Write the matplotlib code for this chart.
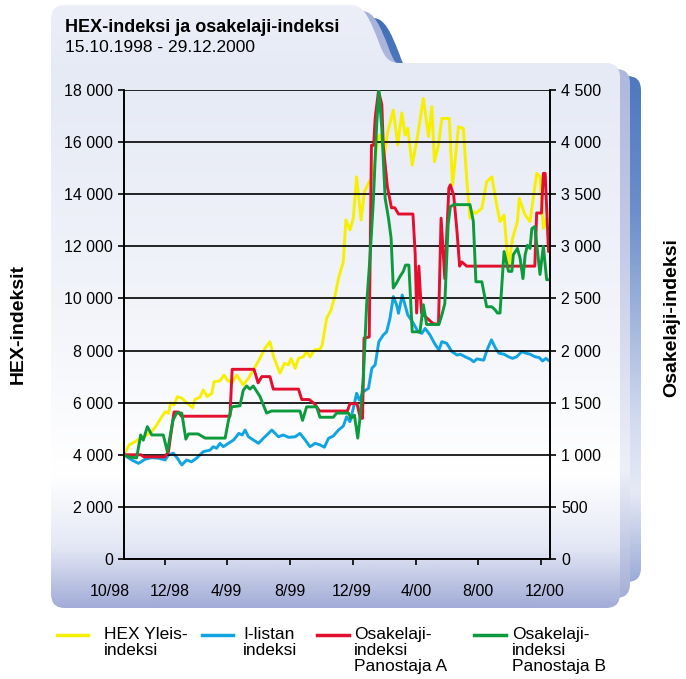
import matplotlib
matplotlib.use("Agg")
import matplotlib.pyplot as plt
import numpy as np
from matplotlib.path import Path
from matplotlib.patches import PathPatch
from matplotlib.colors import LinearSegmentedColormap
from matplotlib.lines import Line2D

plt.rcParams['font.family'] = ['Liberation Sans', 'DejaVu Sans']

# ---------------- data (x = weeks since 15.10.1998) ----------------
weeks_hex = [0, 1.4, 2.5, 3.9, 5.7, 7.5, 8.8, 10.2, 11.1, 12.0, 12.6, 13.5, 14.4, 15.6, 16.9,
             18.5, 19.2, 20.5, 21.4, 22.5, 23.7, 24.3, 25.9, 27.0, 27.9, 29.1, 30.4, 32.2, 33.6,
             34.9, 36.3, 38.1, 39.4, 40.3, 42.1, 43.3, 44.4, 45.1, 46.2, 47.1, 48.4, 49.3, 50.2,
             51.4, 52.9, 53.5, 54.7, 55.9, 57.0, 57.9, 59.2, 59.9, 61.0, 61.9, 62.8, 64.0, 64.9,
             66.0, 67.0, 67.8, 68.5, 69.1, 70.3, 71.2, 72.7, 73.9, 75.0, 75.9, 76.6, 77.8, 79.3,
             80.8, 82.2, 83.1, 83.8, 84.9, 85.8, 87.8, 88.7, 90.3, 91.6, 92.5, 93.4, 94.3, 95.0,
             96.6, 97.9, 99.3, 100.6, 101.5, 102.6, 103.8, 104.9, 106.2, 106.7, 108.3, 109.6,
             111.4, 112.3, 113.2, 114.1, 115]
hex_vals = [4000, 4380, 4460, 4590, 4720, 4890, 5140, 5460, 5650, 5590, 6000, 5910, 6230, 6170, 6000,
            5810, 6130, 6210, 6490, 6230, 6360, 6800, 6840, 7060, 6870, 6750, 7060, 6680, 6940,
            7250, 7600, 8100, 8340, 7800, 7130, 7510, 7450, 7700, 7320, 7700, 7760, 7960, 7760,
            8020, 8050, 8210, 9240, 9560, 10130, 10770, 11410, 13010, 12630, 13080, 14670, 13010, 14100,
            14420, 14670, 15310, 16150, 16270, 15510, 16400, 17230, 15890, 17120, 16270, 16530, 15120, 16270,
            17680, 16210, 17360, 15250, 15890, 16910, 16910, 14350, 16590, 16530, 14610, 13080, 13330, 13270,
            13460, 14480, 14670, 13590, 12950, 13200, 11160, 12310, 12950, 13840, 13200, 12950,
            14800, 14670, 12690, 13080, 13010]

weeks_ilist = [0, 2.1, 3.9, 5.7, 7.5, 9.3, 11.1, 12.0, 13.3, 14.4, 15.6, 16.9, 18.2, 19.6, 21.4,
               23.2, 24.1, 25.0, 25.9, 26.8, 28.2, 29.6, 31.0, 31.9, 32.7, 33.6, 34.9, 36.3, 37.6,
               39.0, 39.9, 41.7, 43.0, 44.4, 46.2, 47.5, 48.9, 50.2, 51.6, 52.9, 54.1, 55.2, 56.5,
               57.9, 59.2, 60.1, 61.0, 61.9, 62.8, 63.5, 64.6, 66.0, 66.9, 67.8, 68.8, 70.0, 70.9,
               71.8, 72.7, 73.6, 74.1, 75.1, 76.0, 76.6, 78.1, 79.4, 80.4, 81.3, 82.6, 83.8, 85.0,
               85.8, 87.1, 88.5, 89.9, 90.8, 92.1, 93.5, 94.4, 95.3, 97.1, 98.0, 99.2, 100.3, 101.2,
               102.6, 103.8, 104.9, 106.0, 107.4, 108.5, 109.6, 111.0, 112.1, 113.0, 113.9, 114.8, 115]
ilist_vals = [4000, 3800, 3670, 3830, 3890, 3870, 3800, 3990, 4060, 3870, 3610, 3800, 3730, 3870, 4120,
              4180, 4310, 4250, 4440, 4310, 4440, 4570, 4820, 4760, 4950, 4690, 4570, 4440, 4630,
              4820, 4950, 4690, 4760, 4670, 4690, 4820, 4570, 4310, 4440, 4380, 4290, 4630, 4720,
              4950, 5100, 5460, 5270, 5780, 6360, 6100, 6420, 6550, 7320, 7450, 8340, 8600, 8720,
              9240, 10070, 9750, 9430, 10130, 9680, 9370, 9050, 8720, 8660, 8850, 8600, 8280, 8020,
              8340, 8280, 7960, 7830, 7860, 7760, 7670, 7570, 7680, 7630, 8020, 8410, 8090, 7900,
              7860, 7760, 7700, 7760, 7960, 7900, 7860, 7760, 7730, 7600, 7700, 7600, 7640]

weeks_a = [0, 4.6, 5.4, 11.0, 12.0, 13.5, 14.7, 15.5, 28.6, 29.2, 35.1, 36.2, 37.2, 39.4, 40.3,
           47.1, 48.0, 50.0, 51.4, 52.8, 60.3, 61.0, 62.9, 63.8, 64.4, 64.8, 66.2, 66.8, 67.4,
           67.8, 68.7, 69.6, 70.0, 71.1, 72.2, 73.1, 74.1, 78.0, 78.6, 79.0, 79.6, 80.3, 81.2,
           83.4, 84.9, 85.6, 86.6, 87.7, 88.1, 89.0, 89.9, 90.6, 91.2, 92.5, 110.9, 111.4, 112.7,
           113.2, 113.7, 114.6, 115]
a_vals = [1000, 1000, 980, 980, 1030, 1410, 1410, 1370, 1370, 1820, 1820, 1690, 1750, 1750, 1630,
          1630, 1530, 1530, 1490, 1420, 1420, 1490, 1490, 1350, 1350, 2120, 2130, 3970, 3970,
          4230, 4490, 4360, 3960, 3570, 3370, 3370, 3310, 3310, 2930, 2360, 2810, 2360, 2330,
          2260, 2250, 3270, 2690, 3560, 3590, 3490, 3140, 2810, 2850, 2810, 2810, 3320, 3320,
          3700, 3700, 2950, 2950]

weeks_b = [0, 1.1, 3.4, 4.5, 5.2, 6.3, 7.5, 10.6, 11.7, 13.2, 14.2, 15.6, 16.7, 17.4, 20.0,
           21.9, 27.3, 28.2, 29.1, 31.3, 32.2, 33.1, 34.0, 34.9, 36.7, 38.5, 39.8, 47.5, 48.2,
           49.3, 52.0, 52.9, 56.5, 57.4, 60.6, 61.3, 62.2, 63.1, 63.7, 64.6, 65.5, 66.4, 67.3,
           68.2, 68.8, 69.6, 70.5, 71.4, 72.1, 72.7, 73.6, 74.5, 75.4, 76.0, 76.9, 77.8, 79.9,
           80.8, 81.7, 85.0, 85.8, 86.6, 87.5, 88.1, 89.0, 93.4, 94.3, 95.0, 96.6, 97.9, 99.3,
           100.2, 100.8, 101.5, 102.0, 102.6, 103.8, 104.7, 105.1, 106.2, 106.9, 107.7, 108.3,
           108.9, 109.6, 110.1, 110.9, 112.3, 113.2, 114.1, 115]
b_vals = [1000, 980, 970, 1190, 1140, 1270, 1190, 1190, 1030, 1330, 1400, 1400, 1150, 1200, 1200,
          1160, 1160, 1330, 1460, 1470, 1620, 1660, 1630, 1660, 1560, 1400, 1420, 1420, 1330,
          1460, 1460, 1360, 1360, 1400, 1400, 1350, 1380, 1160, 1350, 1730, 2440, 2890, 3430,
          4160, 4500, 4130, 3460, 3270, 3080, 2600, 2650, 2710, 2760, 2820, 2820, 2180, 2180,
          2440, 2250, 2250, 2340, 2450, 3210, 3380, 3400, 3400, 3240, 2660, 2660, 2420, 2420,
          2390, 2360, 2360, 2630, 2950, 2760, 2760, 2920, 2980, 2890, 2690, 2920,
          3010, 2980, 3170, 3190, 2730, 3000, 2680, 2680]

month_ticks = [11.1, 27.7, 44.8, 61.8, 78.8, 95.5, 112.6]
month_labels = ['10/98', '12/98', '4/99', '8/99', '12/99', '4/00', '8/00', '12/00']
left_ticks = list(range(0, 18001, 2000))
right_ticks = list(range(0, 4501, 500))
series_names = ['HEX Yleis-\nindeksi', 'I-listan\nindeksi',
                'Osakelaji-\nindeksi\nPanostaja A', 'Osakelaji-\nindeksi\nPanostaja B']
colors = ['#f7ef00', '#12a4e2', '#e2102e', '#0c9a3c']

# ---------------- figure ----------------
W, H = 686, 679
fig = plt.figure(figsize=(W / 100, H / 100), dpi=100)


def fx(x):
    return x / W


def fy(y):
    return 1 - y / H


bg = fig.add_axes([0, 0, 1, 1], zorder=-10)
bg.axis('off')


def folder_path(dx, dy, bottom):
    r = 14
    L, T, R = 51 + dx, 5 + dy, 620 + dx
    PT = 63 + dy
    verts = [(L, T + r), (L, T), (L + r, T),
             (352 + dx, T), (364 + dx, T), (370 + dx, T + 15), (378 + dx, T + 35),
             (384 + dx, PT - 6), (388 + dx, PT), (400 + dx, PT),
             (R - r, PT), (R, PT), (R, PT + r),
             (R, bottom - r), (R, bottom), (R - r, bottom),
             (L + r, bottom), (L, bottom), (L, bottom - r),
             (L, T + r)]
    codes = [Path.MOVETO, Path.CURVE3, Path.CURVE3,
             Path.LINETO, Path.CURVE4, Path.CURVE4, Path.CURVE4,
             Path.CURVE4, Path.CURVE4, Path.CURVE4,
             Path.LINETO, Path.CURVE3, Path.CURVE3,
             Path.LINETO, Path.CURVE3, Path.CURVE3,
             Path.LINETO, Path.CURVE3, Path.CURVE3,
             Path.CLOSEPOLY]
    return Path(verts, codes)


def grad_fill(path, stops, y0, y1, z):
    patch = PathPatch(path, facecolor='none', edgecolor='none', zorder=z)
    bg.add_patch(patch)
    cmap = LinearSegmentedColormap.from_list('g', stops)
    grad = np.linspace(0, 1, 512).reshape(-1, 1)
    im = bg.imshow(grad, cmap=cmap, extent=[0, W, y1, y0], aspect='auto',
                   interpolation='bilinear', zorder=z)
    im.set_clip_path(patch)


grad_fill(folder_path(21, 13, 582),
          [(0, '#3e6db6'), (0.35, '#6d8fcb'), (0.7, '#d3dbef'), (0.82, '#e6eaf6'), (1, '#8c9fd1')],
          5, 600, 1)
grad_fill(folder_path(10, 6, 598),
          [(0, '#a7b1d9'), (0.4, '#c3cae6'), (0.78, '#eef0f8'), (1, '#a4aed7')],
          5, 600, 2)
grad_fill(folder_path(0, 0, 608),
          [(0, '#eceff8'), (0.12, '#e6eaf5'), (0.5, '#f2f4fa'), (0.78, '#ffffff'),
           (0.9, '#e4e8f5'), (1, '#a2acd7')],
          5, 608, 3)
bg.set_xlim(0, W)
bg.set_ylim(H, 0)

# ---------------- axes ----------------
ax = fig.add_axes([fx(124), fy(559), (550 - 124) / W, (559 - 90) / H])
ax.set_facecolor('none')
ax2 = ax.twinx()
ax2.set_facecolor('none')

ax.plot(weeks_hex, hex_vals, color=colors[0], lw=2.1)
ax.plot(weeks_ilist, ilist_vals, color=colors[1], lw=2.1)
ax2.plot(weeks_a, a_vals, color=colors[2], lw=2.1)
ax2.plot(weeks_b, b_vals, color=colors[3], lw=2.1)

ax.set_xlim(0, 115)
ax.set_ylim(0, 18000)
ax2.set_ylim(0, 4500)

ax.set_yticks(left_ticks)
ax.set_yticklabels([f'{v:,}'.replace(',', ' ') for v in left_ticks])
ax2.set_yticks(right_ticks)
ax2.set_yticklabels([f'{v:,}'.replace(',', ' ') for v in right_ticks])
ax.set_xticks(month_ticks)
ax.set_xticklabels([])

ax.yaxis.grid(True, color='black', lw=1.2)
ax.set_axisbelow(False)
for a in (ax, ax2):
    a.spines['top'].set_visible(False)
    for s in ('left', 'right', 'bottom'):
        a.spines[s].set_linewidth(1.2)
ax.tick_params(axis='y', direction='out', length=4, width=1.2, pad=4, labelsize=11.5)
ax2.tick_params(axis='y', direction='out', length=4, width=1.2, pad=4, labelsize=11.5)
ax.tick_params(axis='x', direction='out', length=4, width=1.2)

label_px = [110, 170, 226, 290, 352, 416, 478, 545]
for lx, lab in zip(label_px, month_labels):
    fig.text(fx(lx), fy(591), lab, ha='center', va='center', fontsize=11.5)

# titles
fig.text(fx(65), fy(28), 'HEX-indeksi ja osakelaji-indeksi', ha='left', va='center',
         fontsize=13, fontweight='bold')
fig.text(fx(65), fy(47), '15.10.1998 - 29.12.2000', ha='left', va='center', fontsize=12.5)

fig.text(fx(18), fy(324), 'HEX-indeksit', rotation=90, ha='center', va='center',
         fontsize=14, fontweight='bold')
fig.text(fx(672), fy(318), 'Osakelaji-indeksi', rotation=90, ha='center', va='center',
         fontsize=14, fontweight='bold')

# legend
leg_line_x = [(57, 88), (202, 233), (317, 349), (474, 506)]
leg_text_x = [104, 243, 354, 512]
for (x0, x1), tx, name, c in zip(leg_line_x, leg_text_x, series_names, colors):
    fig.add_artist(Line2D([fx(x0), fx(x1)], [fy(635), fy(635)], transform=fig.transFigure,
                          color=c, lw=2.5))
    fig.text(fx(tx), fy(627), name, ha='left', va='top', fontsize=12.5, linespacing=1.1)

fig.savefig('out.png', dpi=100)
